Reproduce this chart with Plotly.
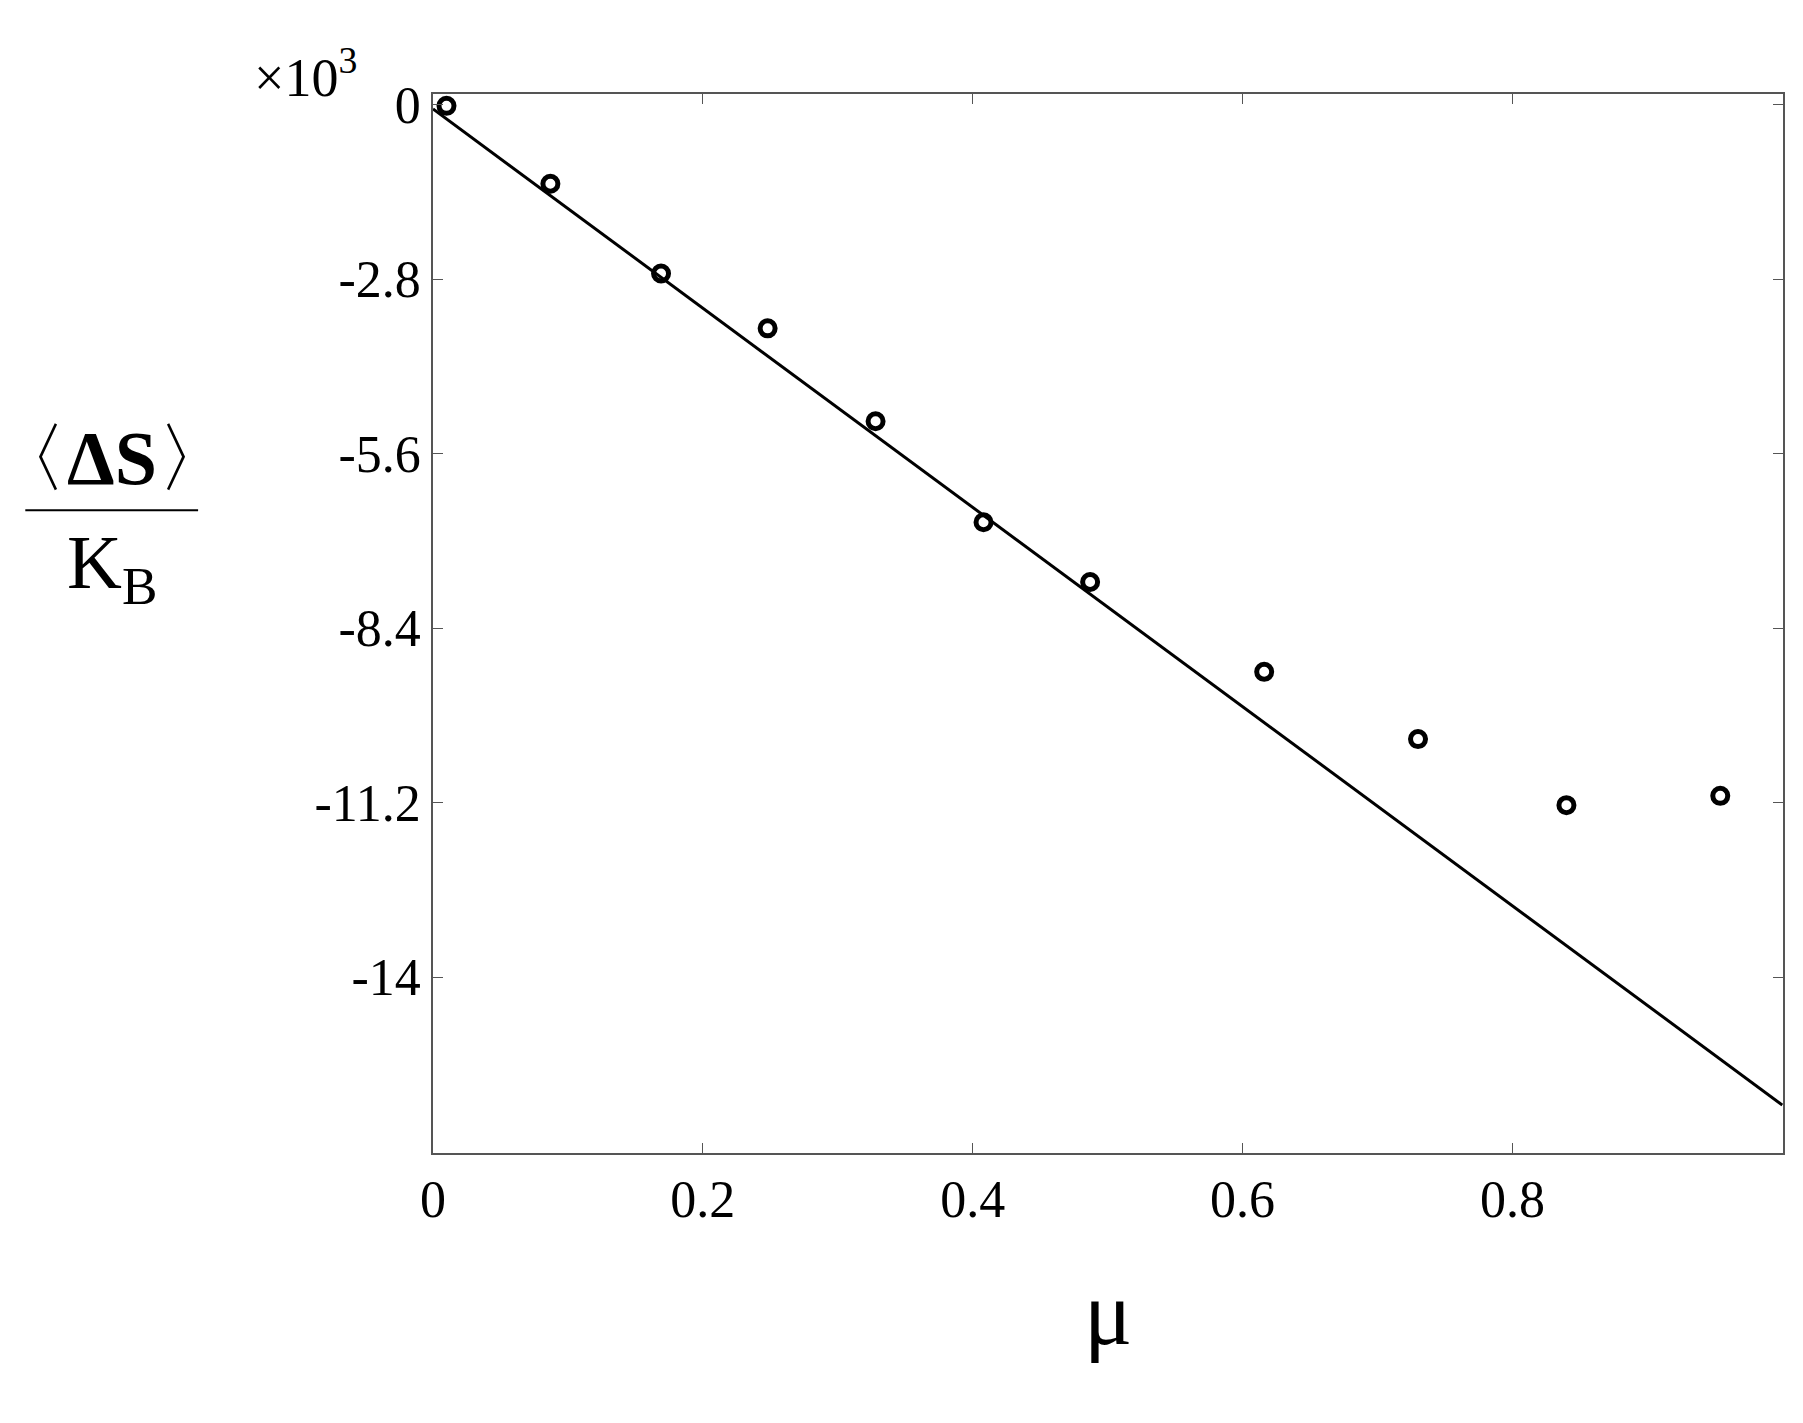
import plotly.graph_objects as go

# simulation points (x 10^3)
mu = [0.01, 0.087, 0.169, 0.248, 0.328, 0.408, 0.487, 0.616, 0.73, 0.84, 0.954]
ds = [-0.02, -1.27, -2.71, -3.59, -5.08, -6.70, -7.66, -9.10, -10.18, -11.24, -11.09]

# linear fit
fit_mu = [0.0, 1.0]
fit_ds = [-0.07, -16.05]

yticks = [0, -2.8, -5.6, -8.4, -11.2, -14]
yticklabels = ["0", "-2.8", "-5.6", "-8.4", "-11.2", "-14"]
xticks = [0, 0.2, 0.4, 0.6, 0.8, 1.0]
xticklabels = ["0", "0.2", "0.4", "0.6", "0.8", "1.0"]

font = "Liberation Serif"

fig = go.Figure()
fig.add_trace(go.Scatter(x=fit_mu, y=fit_ds, mode="lines",
                         line=dict(color="black", width=3), showlegend=False))
fig.add_trace(go.Scatter(x=mu, y=ds, mode="markers",
                         marker=dict(symbol="circle-open", size=15, color="black",
                                     line=dict(width=5, color="black")),
                         showlegend=False))

axis_common = dict(showgrid=False, zeroline=False, showline=True, linecolor="#555",
                   linewidth=1.5, mirror="ticks", ticks="inside", ticklen=10,
                   tickcolor="#555", tickfont=dict(family=font, size=52, color="black"))

fig.update_xaxes(range=[0, 1.0005], tickvals=xticks, ticktext=xticklabels, **axis_common)
fig.update_yaxes(range=[-16.82, 0.17], tickvals=yticks, ticktext=yticklabels, **axis_common)

fig.add_annotation(text="μ", xref="paper", yref="paper", x=0.5, y=-0.2,
                   showarrow=False, font=dict(family=font, size=90, color="black"))
fig.add_annotation(text="×10<sup>3</sup>", xref="paper", yref="paper", x=-0.055, y=0.985,
                   xanchor="right", yanchor="bottom", showarrow=False,
                   font=dict(family=font, size=54, color="black"))
fig.add_annotation(text="〈<b>ΔS</b>〉", xref="paper", yref="paper", x=-0.238, y=0.615,
                   xanchor="center", yanchor="bottom", showarrow=False,
                   font=dict(family=font, size=76, color="black"))
fig.add_annotation(text="K<sub>B</sub>", xref="paper", yref="paper", x=-0.238, y=0.6,
                   xanchor="center", yanchor="top", showarrow=False,
                   font=dict(family=font, size=76, color="black"))
fig.add_shape(type="line", xref="paper", yref="paper", x0=-0.302, x1=-0.174,
              y0=0.607, y1=0.607, line=dict(color="black", width=2))

fig.update_layout(width=1803, height=1423, plot_bgcolor="white", paper_bgcolor="white",
                  margin=dict(l=425, r=28, t=86, b=278))

fig.write_html("out.html")
